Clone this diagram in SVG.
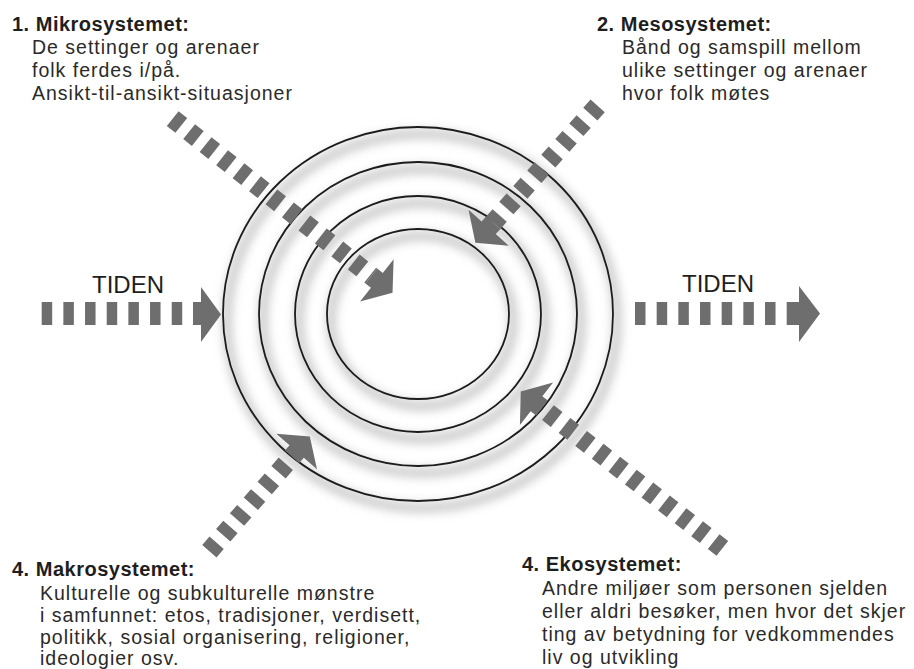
<svg xmlns="http://www.w3.org/2000/svg" width="914" height="669" viewBox="0 0 914 669">
<style>
.t{font-family:"Liberation Sans",Arial,sans-serif;font-weight:bold;font-size:20px;letter-spacing:0.5px;fill:#1e1e1e}
.b{font-family:"Liberation Sans",Arial,sans-serif;font-size:19.5px;letter-spacing:1px;fill:#2a2a2a}
.tid{font-family:"Liberation Sans",Arial,sans-serif;font-size:24px;fill:#1e1e1e}
.ring{fill:none;stroke:#1c1c1c;stroke-width:1.8}
.shade{fill:none;stroke:#bdbdbd;stroke-width:10}
.dash{stroke:#6e6e6e;stroke-width:19;fill:none;stroke-dasharray:11 10}
.hdash{stroke:#6e6e6e;stroke-width:23;fill:none;stroke-dasharray:10.5 11.17}
.head{fill:#6e6e6e}
</style>
<defs>
<filter id="blur" x="-20%" y="-20%" width="140%" height="140%"><feGaussianBlur stdDeviation="5"/></filter>
</defs>
<rect width="914" height="669" fill="#ffffff"/>
<g id="circles">
<g filter="url(#blur)" opacity="0.75" transform="translate(4,7)">
<ellipse class="shade" cx="418" cy="314" rx="91" ry="85"/>
<ellipse class="shade" cx="418" cy="314" rx="123" ry="118"/>
<ellipse class="shade" cx="418" cy="314" rx="159" ry="152"/>
<ellipse class="shade" cx="418" cy="314" rx="195" ry="187"/>
</g>
<ellipse class="ring" cx="418" cy="314" rx="91" ry="85"/>
<ellipse class="ring" cx="418" cy="314" rx="123" ry="118"/>
<ellipse class="ring" cx="418" cy="314" rx="159" ry="152"/>
<ellipse class="ring" cx="418" cy="314" rx="195" ry="187"/>
</g>
<g id="connectors">
<g id="arrow-mikro" transform="translate(177,122) rotate(38.4)">
<line class="dash" x1="-5.5" y1="0" x2="248" y2="0"/>
<polygon class="head" points="248,-9.5 255,-9.5 255,-27 275,0 255,27 255,9.5 248,9.5"/>
</g>
<g id="arrow-meso" transform="translate(594,110) rotate(131.8)">
<line class="dash" x1="-5.5" y1="0" x2="151" y2="0"/>
<polygon class="head" points="151,-9.5 158,-9.5 158,-27 178,0 158,27 158,9.5 151,9.5"/>
</g>
<g id="arrow-eko" transform="translate(718,545) rotate(217.9)">
<line class="dash" x1="-5.5" y1="0" x2="223" y2="0"/>
<polygon class="head" points="223,-9.5 230,-9.5 230,-27 250,0 230,27 230,9.5 223,9.5"/>
</g>
<g id="arrow-makro" transform="translate(213,547) rotate(-48.8)">
<line class="dash" x1="-5.5" y1="0" x2="120" y2="0"/>
<polygon class="head" points="120,-9.5 127,-9.5 127,-27 147,0 127,27 127,9.5 120,9.5"/>
</g>
<g id="arrow-tid-left">
<line class="hdash" x1="41.7" y1="313.5" x2="193" y2="313.5"/>
<polygon class="head" points="193,302 201,302 201,287 221,314.5 201,342 201,325 193,325"/>
</g>
<g id="arrow-tid-right">
<line class="hdash" x1="635" y1="313.5" x2="787" y2="313.5"/>
<polygon class="head" points="787,302 799,302 799,286 820,313.5 799,342 799,325 787,325"/>
</g>
</g>
<g id="label-tiden-left"><text class="tid" x="92" y="293">TIDEN</text></g>
<g id="label-tiden-right"><text class="tid" x="682" y="292">TIDEN</text></g>
<g id="node-mikro">
<text class="t" x="12" y="31">1. Mikrosystemet:</text>
<text class="b" x="32" y="54">De settinger og arenaer</text>
<text class="b" x="32" y="77">folk ferdes i/på.</text>
<text class="b" x="32" y="100">Ansikt-til-ansikt-situasjoner</text>
</g>
<g id="node-meso">
<text class="t" x="597" y="31">2. Mesosystemet:</text>
<text class="b" x="622" y="54">Bånd og samspill mellom</text>
<text class="b" x="622" y="77">ulike settinger og arenaer</text>
<text class="b" x="622" y="100">hvor folk møtes</text>
</g>
<g id="node-makro">
<text class="t" x="12" y="576">4. Makrosystemet:</text>
<text class="b" x="40" y="600">Kulturelle og subkulturelle mønstre</text>
<text class="b" x="40" y="622">i samfunnet: etos, tradisjoner, verdisett,</text>
<text class="b" x="40" y="644">politikk, sosial organisering, religioner,</text>
<text class="b" x="40" y="665">ideologier osv.</text>
</g>
<g id="node-eko">
<text class="t" x="522" y="571">4. Ekosystemet:</text>
<text class="b" x="542" y="595">Andre miljøer som personen sjelden</text>
<text class="b" x="542" y="618">eller aldri besøker, men hvor det skjer</text>
<text class="b" x="542" y="641">ting av betydning for vedkommendes</text>
<text class="b" x="542" y="664">liv og utvikling</text>
</g>
</svg>
